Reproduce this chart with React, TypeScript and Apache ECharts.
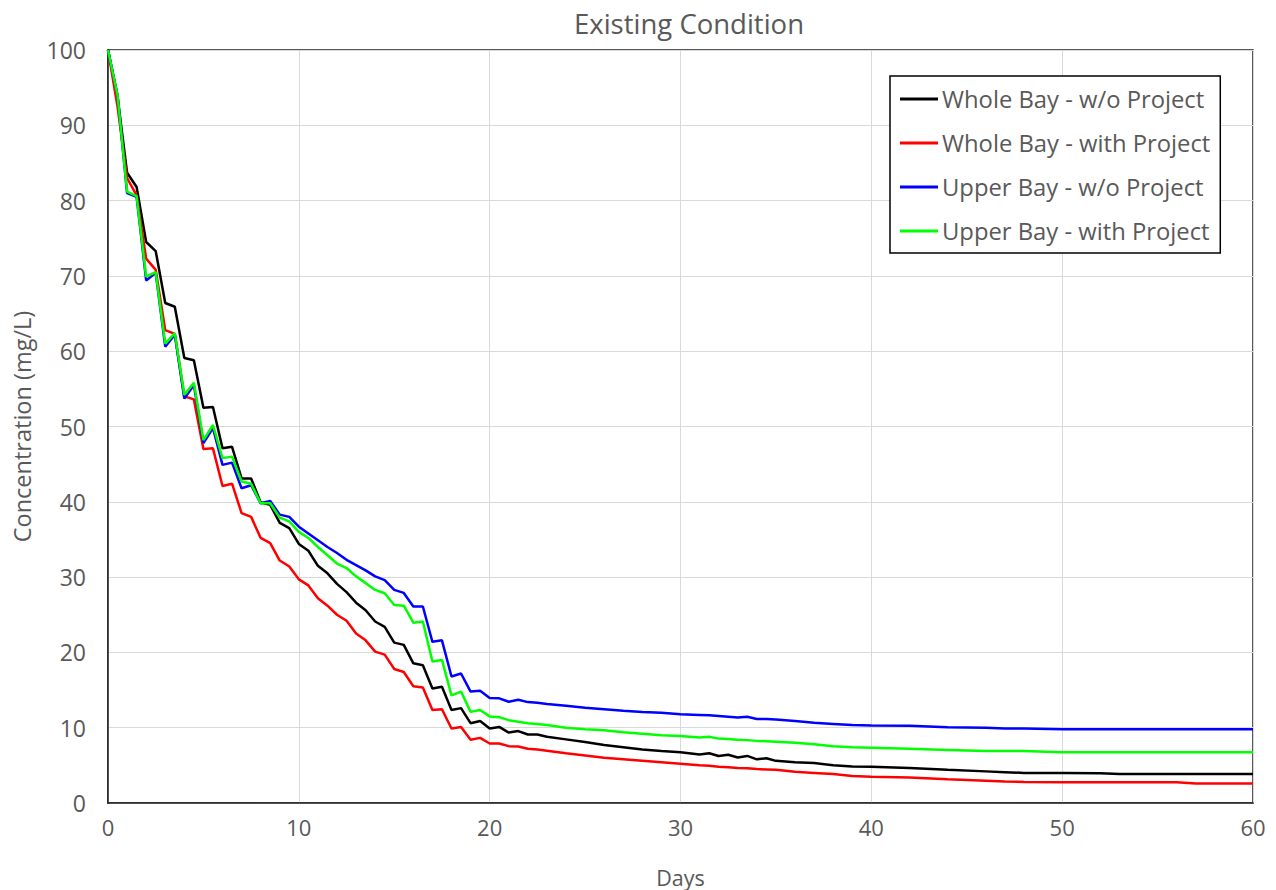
import React, { useEffect, useRef } from "react";
import * as echarts from "echarts";

const days = [
  0, 0.5, 1, 1.5, 2, 2.5, 3, 3.5, 4, 4.5, 5, 5.5, 6, 6.5, 7, 7.5, 8, 8.5, 9, 9.5,
  10, 10.5, 11, 11.5, 12, 12.5, 13, 13.5, 14, 14.5, 15, 15.5, 16, 16.5, 17, 17.5,
  18, 18.5, 19, 19.5, 20, 20.5, 21, 21.5, 22, 22.5,
  23, 24, 25, 26, 27, 28, 29, 30, 31, 31.5, 32, 32.5, 33, 33.5, 34, 34.5, 35, 36, 37, 38, 39, 40,
  42, 44, 46, 47, 48, 50, 52, 53, 56, 57, 60,
];

const wholeBayWithout = [
  100, 93.8, 83.7, 81.8, 74.5, 73.3, 66.4, 65.9, 59.1, 58.8, 52.5, 52.6, 47.1, 47.3, 43.1, 43.1,
  39.9, 39.6, 37.2, 36.5, 34.4, 33.5, 31.5, 30.5, 29.1, 28.0, 26.6, 25.6, 24.1, 23.4, 21.3, 21.0,
  18.55, 18.3, 15.2, 15.45, 12.35, 12.6, 10.6, 10.9, 9.9, 10.1, 9.35, 9.55, 9.1, 9.1,
  8.8, 8.45, 8.1, 7.7, 7.4, 7.1, 6.9, 6.75, 6.45, 6.6, 6.25, 6.4, 6.05, 6.25, 5.8, 5.95, 5.6, 5.4, 5.3, 5.0, 4.85, 4.8,
  4.65, 4.4, 4.2, 4.1, 4.0, 4.0, 3.95, 3.85, 3.85, 3.85, 3.85,
];

const wholeBayWith = [
  100, 92.5, 83.0, 80.7, 72.3, 70.8, 62.8, 62.3, 54.0, 53.6, 47.0, 47.1, 42.1, 42.4, 38.5, 38.0,
  35.2, 34.5, 32.2, 31.4, 29.7, 28.9, 27.2, 26.2, 25.0, 24.2, 22.5, 21.6, 20.1, 19.7, 17.8, 17.4,
  15.5, 15.35, 12.35, 12.45, 9.9, 10.1, 8.4, 8.65, 7.9, 7.9, 7.55, 7.5, 7.2, 7.1,
  6.95, 6.6, 6.3, 6.0, 5.8, 5.6, 5.4, 5.2, 5.0, 4.95, 4.8, 4.75, 4.65, 4.6, 4.5, 4.45, 4.4, 4.15, 4.0, 3.85, 3.6, 3.5,
  3.4, 3.15, 2.95, 2.85, 2.8, 2.75, 2.75, 2.75, 2.75, 2.6, 2.6,
];

const upperBayWithout = [
  100, 94.0, 81.0, 80.5, 69.4, 70.4, 60.6, 62.2, 53.7, 55.5, 47.8, 49.8, 44.9, 45.2, 41.8, 42.2,
  39.8, 40.1, 38.3, 38.0, 36.7, 35.8, 34.9, 34.0, 33.2, 32.3, 31.6, 30.9, 30.1, 29.6, 28.3, 27.9,
  26.1, 26.1, 21.4, 21.6, 16.8, 17.2, 14.8, 14.9, 13.95, 13.9, 13.45, 13.7, 13.4, 13.3,
  13.15, 12.9, 12.65, 12.45, 12.25, 12.1, 12.0, 11.8, 11.7, 11.65, 11.55, 11.45, 11.35, 11.45, 11.15, 11.15, 11.1, 10.9, 10.65, 10.5, 10.35, 10.3,
  10.25, 10.05, 10.0, 9.9, 9.9, 9.8, 9.8, 9.8, 9.8, 9.8, 9.8,
];

const upperBayWith = [
  100, 94.0, 81.2, 80.6, 69.9, 70.5, 61.0, 62.4, 54.2, 55.8, 48.2, 50.2, 45.8, 46.0, 42.7, 42.4,
  39.8, 39.8, 37.9, 37.4, 36.0, 35.2, 34.0, 32.9, 31.8, 31.2, 30.1, 29.2, 28.3, 27.85, 26.3, 26.2,
  23.95, 24.1, 18.8, 19.0, 14.3, 14.8, 12.1, 12.35, 11.5, 11.4, 11.0, 10.8, 10.6, 10.5,
  10.35, 10.0, 9.8, 9.65, 9.4, 9.2, 9.0, 8.9, 8.7, 8.8, 8.55, 8.5, 8.4, 8.35, 8.25, 8.2, 8.15, 8.0, 7.8, 7.55, 7.4, 7.35,
  7.2, 7.05, 6.9, 6.9, 6.9, 6.75, 6.75, 6.75, 6.75, 6.75, 6.75,
];

const seriesNames = [
  "Whole Bay - w/o Project",
  "Whole Bay - with Project",
  "Upper Bay - w/o Project",
  "Upper Bay - with Project",
];
const seriesValues = [wholeBayWithout, wholeBayWith, upperBayWithout, upperBayWith];
const seriesColors = ["#000000", "#ff0000", "#0000ff", "#00ff00"];

const FONT = "'Open Sans', 'Noto Sans', sans-serif";
const GRAY = "#595959";

export default function App() {
  const ref = useRef<HTMLDivElement>(null);

  useEffect(() => {
    if (!ref.current) return;
    const chart = echarts.init(ref.current, undefined, { renderer: "svg" });
    chart.setOption({
      animation: false,
      backgroundColor: "#ffffff",
      title: {
        text: "Existing Condition",
        left: 684,
        textAlign: "center",
        top: 4,
        textStyle: { fontFamily: FONT, fontSize: 27.5, fontWeight: "normal", color: GRAY },
      },
      grid: {
        left: 108,
        right: 23,
        top: 50,
        bottom: 87,
        outerBoundsMode: "none",
        containLabel: false,
        show: true,
        borderColor: "#222222",
        borderWidth: 1.5,
      },
      legend: {
        orient: "vertical",
        left: 890,
        top: 76,
        padding: [10, 10, 9, 10],
        itemGap: 18,
        itemWidth: 38,
        itemHeight: 3,
        icon: "rect",
        borderColor: "#000000",
        borderWidth: 1.5,
        backgroundColor: "#ffffff",
        textStyle: { fontFamily: FONT, fontSize: 23.8, color: GRAY, lineHeight: 26, padding: [0, 0, 0, -1] },
        data: seriesNames,
      },
      xAxis: {
        type: "value",
        min: 0,
        max: 60,
        interval: 10,
        name: "Days",
        nameLocation: "middle",
        nameGap: 63,
        nameTextStyle: { fontFamily: FONT, fontSize: 21.5, color: GRAY, lineHeight: 22 },
        axisLine: { show: true, lineStyle: { color: "#222222", width: 1.5 } },
        axisTick: { show: false },
        axisLabel: { fontFamily: FONT, fontSize: 22, color: GRAY, margin: 13 },
        splitLine: { show: true, lineStyle: { color: "#d9d9d9", width: 1 } },
      },
      yAxis: {
        type: "value",
        min: 0,
        max: 100,
        interval: 10,
        name: "Concentration (mg/L)",
        nameLocation: "middle",
        nameGap: 74,
        nameTextStyle: { fontFamily: FONT, fontSize: 23.5, color: GRAY },
        axisLine: { show: true, lineStyle: { color: "#222222", width: 1.5 } },
        axisTick: { show: false },
        axisLabel: { fontFamily: FONT, fontSize: 23, color: GRAY, margin: 22 },
        splitLine: { show: true, lineStyle: { color: "#d9d9d9", width: 1 } },
      },
      series: seriesNames.map((name, i) => ({
        name,
        type: "line",
        showSymbol: false,
        symbol: "none",
        color: seriesColors[i],
        lineStyle: { color: seriesColors[i], width: 2.5 },
        data: days.map((d, j) => [d, seriesValues[i][j]]),
      })),
    });
    return () => chart.dispose();
  }, []);

  return (
    <div
      ref={ref}
      style={{ position: "fixed", left: 0, top: 0, width: 1276, height: 890, background: "#fff" }}
    />
  );
}
